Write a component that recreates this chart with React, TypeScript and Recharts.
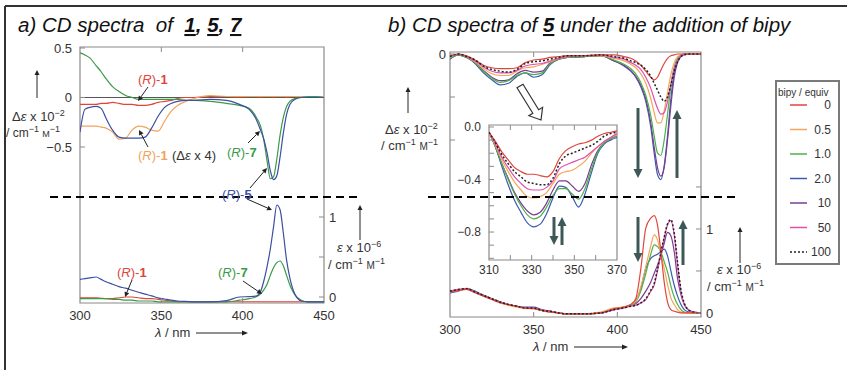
import React from 'react'
import { LineChart, Line, XAxis, YAxis, ReferenceArea, ReferenceLine, Legend } from 'recharts'

const FONT = '"Liberation Sans", Arial, Helvetica, sans-serif'
const TXT = '#333'
const AXIS = '#8a8a8a'

// ---- a) CD / absorption of (R)-1, (R)-5, (R)-7 ----
const lamA = [300, 303, 306, 310, 313, 316, 320, 324, 328, 332, 336, 340, 344, 348, 352, 356, 360, 365, 370, 380, 390, 398, 404, 408, 411, 413, 415, 417, 419, 421, 423, 425, 427, 429, 432, 436, 440, 445, 450]
const cdR7 = [0.45, 0.43, 0.4, 0.32, 0.26, 0.19, 0.11, 0.06, 0.02, 0, -0.02, -0.02, -0.02, -0.02, -0.02, -0.02, -0.02, -0.03, -0.03, -0.04, -0.06, -0.08, -0.11, -0.19, -0.29, -0.43, -0.64, -0.82, -0.8, -0.62, -0.38, -0.2, -0.09, -0.04, -0.01, 0, 0.01, 0.01, 0]
const cdR5 = [-0.35, -0.12, -0.1, -0.09, -0.11, -0.21, -0.33, -0.4, -0.41, -0.41, -0.41, -0.4, -0.31, -0.19, -0.1, -0.06, -0.04, -0.03, -0.03, -0.02, -0.03, -0.07, -0.12, -0.21, -0.33, -0.42, -0.56, -0.74, -0.83, -0.79, -0.6, -0.36, -0.17, -0.07, -0.02, 0, 0, 0, 0]
const cdR1 = [-0.07, -0.07, -0.07, -0.07, -0.06, -0.06, -0.05, -0.06, -0.07, -0.07, -0.08, -0.08, -0.07, -0.05, -0.04, -0.03, -0.01, 0, 0, 0.01, 0.01, 0.005, 0.01, 0.01, 0.005, 0.01, 0.01, 0.01, 0.005, 0.01, 0.01, 0.01, 0.005, 0.01, 0.01, 0.01, 0.01, 0.01, 0.01]
const cdR1x4 = [-0.29, -0.29, -0.29, -0.29, -0.3, -0.31, -0.35, -0.42, -0.41, -0.33, -0.29, -0.3, -0.33, -0.34, -0.24, -0.14, -0.08, -0.04, -0.01, 0.02, 0.01, 0.01, 0.01, 0.01, 0.01, 0.01, 0.01, 0.01, 0.01, 0.01, 0.01, 0.01, 0.01, 0.01, 0.01, 0.01, 0.01, 0.01, 0.01]
const absR5 = [0.22, 0.23, 0.24, 0.25, 0.22, 0.19, 0.16, 0.13, 0.11, 0.085, 0.06, 0.035, 0.015, -0.01, -0.025, -0.04, -0.05, -0.055, -0.06, -0.06, -0.045, 0, 0.005, 0.01, 0.07, 0.2, 0.38, 0.6, 0.88, 1.15, 1.09, 0.8, 0.46, 0.24, 0.04, -0.05, -0.06, -0.06, -0.06]
const absR7 = [-0.02, -0.02, -0.02, -0.02, -0.02, -0.02, -0.03, -0.03, -0.04, -0.04, -0.05, -0.05, -0.05, -0.06, -0.06, -0.06, -0.06, -0.06, -0.06, -0.06, -0.06, -0.04, -0.02, 0, 0.04, 0.09, 0.16, 0.27, 0.37, 0.43, 0.45, 0.39, 0.27, 0.15, 0.03, -0.04, -0.06, -0.06, -0.06]
const absR1 = [-0.01, -0.01, -0.01, -0.01, -0.015, -0.02, -0.02, -0.01, 0, 0, -0.01, -0.02, -0.02, -0.03, -0.04, -0.05, -0.06, -0.06, -0.06, -0.06, -0.06, -0.06, -0.06, -0.06, -0.06, -0.06, -0.06, -0.06, -0.06, -0.06, -0.06, -0.06, -0.06, -0.06, -0.06, -0.06, -0.06, -0.06, -0.06]

// ---- b) titration of 5 with bipy ----
const equivLabels = ['0', '0.5', '1.0', '2.0', '10', '50', '100']
const equivColors = ['#e0463c', '#f4a65c', '#4db04a', '#3c5bb0', '#7a3d8e', '#e050b0', '#222222']
const drawOrder = [3, 4, 2, 1, 5, 0, 6]

const lamB = [300, 305, 310, 315, 320, 325, 330, 335, 340, 345, 350, 355, 360, 365, 370, 380, 390, 398, 404, 408, 411, 414, 417, 420, 422, 424, 426, 428, 430, 432, 434, 436, 438, 440, 443, 446, 450]
const cdEq0 = [-0.02, 0, -0.02, -0.07, -0.13, -0.16, -0.17, -0.17, -0.16, -0.1, -0.07, -0.06, -0.04, -0.03, -0.02, -0.02, -0.01, -0.01, -0.03, -0.05, -0.08, -0.13, -0.2, -0.27, -0.3, -0.27, -0.19, -0.11, -0.05, -0.02, -0.01, 0, 0, 0, 0, 0, 0]
const cdEq05 = [-0.04, 0, -0.03, -0.09, -0.17, -0.23, -0.25, -0.25, -0.2, -0.16, -0.15, -0.12, -0.09, -0.05, -0.03, -0.02, -0.02, -0.05, -0.08, -0.12, -0.16, -0.23, -0.34, -0.52, -0.68, -0.8, -0.8, -0.66, -0.45, -0.24, -0.1, -0.03, -0.01, 0, 0, 0, 0]
const cdEq1 = [-0.05, -0.01, -0.04, -0.1, -0.2, -0.28, -0.33, -0.31, -0.25, -0.22, -0.24, -0.22, -0.11, -0.06, -0.04, -0.03, -0.02, -0.07, -0.12, -0.17, -0.23, -0.33, -0.48, -0.72, -0.95, -1.15, -1.18, -1.0, -0.7, -0.38, -0.15, -0.05, -0.01, 0, 0, 0, 0]
const cdEq2 = [-0.06, -0.01, -0.04, -0.11, -0.22, -0.3, -0.36, -0.34, -0.26, -0.22, -0.27, -0.24, -0.12, -0.06, -0.04, -0.03, -0.02, -0.08, -0.14, -0.2, -0.27, -0.38, -0.55, -0.85, -1.15, -1.4, -1.46, -1.3, -0.95, -0.52, -0.22, -0.08, -0.02, 0, 0, 0, 0]
const cdEq10 = [-0.05, -0.01, -0.04, -0.1, -0.19, -0.27, -0.31, -0.3, -0.23, -0.19, -0.21, -0.2, -0.1, -0.06, -0.04, -0.03, -0.02, -0.08, -0.13, -0.19, -0.26, -0.36, -0.52, -0.8, -1.08, -1.32, -1.42, -1.32, -1.0, -0.6, -0.27, -0.1, -0.03, -0.01, 0, 0, 0]
const cdEq50 = [-0.03, 0, -0.03, -0.08, -0.15, -0.2, -0.22, -0.22, -0.19, -0.14, -0.12, -0.11, -0.08, -0.05, -0.03, -0.02, -0.01, -0.04, -0.06, -0.1, -0.13, -0.18, -0.27, -0.4, -0.52, -0.63, -0.7, -0.68, -0.55, -0.35, -0.17, -0.07, -0.02, 0, 0, 0, 0]
const cdEq100 = [-0.03, 0, -0.03, -0.07, -0.14, -0.18, -0.2, -0.21, -0.18, -0.11, -0.09, -0.08, -0.06, -0.04, -0.02, -0.02, -0.01, -0.03, -0.05, -0.08, -0.1, -0.13, -0.18, -0.26, -0.34, -0.42, -0.5, -0.55, -0.5, -0.36, -0.2, -0.09, -0.03, -0.01, 0, 0, 0]

const absEq0 = [0.25, 0.27, 0.28, 0.24, 0.2, 0.16, 0.12, 0.1, 0.08, 0.06, 0.05, 0.03, 0.01, 0, -0.01, -0.01, 0, 0.05, 0.07, 0.1, 0.17, 0.52, 1.01, 1.13, 1.16, 1.05, 0.73, 0.37, 0.13, 0.04, 0.02, 0.01, 0, 0, 0, 0, 0]
const absEq05 = [0.25, 0.27, 0.28, 0.24, 0.2, 0.16, 0.12, 0.09, 0.07, 0.05, 0.05, 0.03, 0.01, 0, -0.01, -0.01, 0.01, 0.06, 0.07, 0.1, 0.14, 0.31, 0.55, 0.8, 0.93, 0.87, 0.7, 0.53, 0.34, 0.18, 0.1, 0.04, 0.01, 0, 0, 0, 0]
const absEq1 = [0.25, 0.27, 0.29, 0.25, 0.21, 0.17, 0.13, 0.1, 0.08, 0.06, 0.06, 0.03, 0.02, 0, -0.01, -0.01, 0, 0.05, 0.07, 0.09, 0.13, 0.26, 0.47, 0.7, 0.81, 0.79, 0.73, 0.61, 0.49, 0.32, 0.19, 0.1, 0.04, 0.01, 0, 0, 0]
const absEq2 = [0.24, 0.26, 0.29, 0.26, 0.21, 0.17, 0.13, 0.1, 0.08, 0.07, 0.07, 0.04, 0.02, 0, -0.01, -0.01, 0, 0.04, 0.07, 0.09, 0.15, 0.29, 0.53, 0.65, 0.68, 0.7, 0.73, 0.76, 0.68, 0.5, 0.33, 0.2, 0.1, 0.04, 0.01, 0, 0]
const absEq10 = [0.25, 0.27, 0.29, 0.25, 0.21, 0.17, 0.13, 0.1, 0.08, 0.06, 0.06, 0.03, 0.02, 0, -0.01, -0.01, 0, 0.04, 0.07, 0.09, 0.11, 0.17, 0.26, 0.37, 0.47, 0.57, 0.68, 0.83, 0.96, 0.92, 0.73, 0.41, 0.22, 0.1, 0.03, 0.01, 0]
const absEq50 = [0.26, 0.28, 0.29, 0.25, 0.21, 0.17, 0.13, 0.1, 0.08, 0.06, 0.06, 0.03, 0.02, 0, -0.01, -0.01, 0, 0.04, 0.06, 0.08, 0.09, 0.12, 0.16, 0.26, 0.33, 0.5, 0.7, 0.89, 1.05, 1.1, 0.93, 0.57, 0.25, 0.1, 0.03, 0.01, 0]
const absEq100 = [0.26, 0.28, 0.29, 0.25, 0.21, 0.17, 0.13, 0.1, 0.08, 0.06, 0.06, 0.03, 0.02, 0, -0.01, -0.01, 0, 0.04, 0.06, 0.08, 0.09, 0.12, 0.17, 0.27, 0.35, 0.52, 0.72, 0.9, 1.06, 1.11, 0.95, 0.6, 0.28, 0.12, 0.03, 0.01, 0]

// inset, 310-370 nm
const lamC = [310, 313, 316, 319, 322, 325, 328, 331, 334, 337, 340, 343, 346, 349, 352, 355, 358, 361, 364, 367, 370]
const insEq0 = [-0.04, -0.11, -0.19, -0.25, -0.31, -0.34, -0.36, -0.36, -0.37, -0.38, -0.34, -0.24, -0.18, -0.15, -0.13, -0.12, -0.1, -0.07, -0.05, -0.04, -0.03]
const insEq05 = [-0.04, -0.14, -0.25, -0.34, -0.42, -0.48, -0.53, -0.54, -0.53, -0.5, -0.43, -0.36, -0.34, -0.33, -0.3, -0.26, -0.2, -0.15, -0.11, -0.08, -0.06]
const insEq1 = [-0.04, -0.15, -0.28, -0.4, -0.51, -0.6, -0.67, -0.7, -0.68, -0.61, -0.52, -0.47, -0.47, -0.51, -0.55, -0.47, -0.32, -0.19, -0.12, -0.09, -0.07]
const insEq2 = [-0.04, -0.15, -0.3, -0.44, -0.56, -0.65, -0.73, -0.76, -0.74, -0.66, -0.54, -0.45, -0.46, -0.53, -0.61, -0.51, -0.35, -0.2, -0.13, -0.1, -0.08]
const insEq10 = [-0.04, -0.15, -0.28, -0.39, -0.5, -0.58, -0.64, -0.67, -0.65, -0.58, -0.48, -0.41, -0.41, -0.45, -0.49, -0.43, -0.29, -0.18, -0.12, -0.09, -0.07]
const insEq50 = [-0.04, -0.13, -0.23, -0.31, -0.38, -0.43, -0.47, -0.48, -0.48, -0.46, -0.41, -0.32, -0.29, -0.27, -0.25, -0.23, -0.19, -0.15, -0.11, -0.08, -0.05]
const insEq100 = [-0.04, -0.12, -0.21, -0.28, -0.34, -0.38, -0.42, -0.43, -0.44, -0.44, -0.39, -0.28, -0.22, -0.2, -0.18, -0.16, -0.14, -0.11, -0.07, -0.05, -0.04]

const cdEq = [cdEq0, cdEq05, cdEq1, cdEq2, cdEq10, cdEq50, cdEq100]
const absEq = [absEq0, absEq05, absEq1, absEq2, absEq10, absEq50, absEq100]
const insEq = [insEq0, insEq05, insEq1, insEq2, insEq10, insEq50, insEq100]

const rowsA = lamA.map((x, i) => ({
  x,
  cdR1: cdR1[i], cdR1x4: cdR1x4[i], cdR5: cdR5[i], cdR7: cdR7[i],
  absR1: absR1[i], absR5: absR5[i], absR7: absR7[i],
}))
const rowsB = lamB.map((x, i) => {
  const r: any = { x }
  equivLabels.forEach((_, k) => {
    r['cd' + k] = cdEq[k][i]
    r['ab' + k] = absEq[k][i]
  })
  return r
})
const rowsC = lamC.map((x, i) => {
  const r: any = { x }
  equivLabels.forEach((_, k) => { r['v' + k] = insEq[k][i] })
  return r
})

const RED = '#e0443a'
const ORANGE = '#f2a35a'
const GREEN = '#3b9a48'
const BLUE = '#3c4fa3'
const SLATE = '#3e5858'

// tick renderers: inward tick marks + optional label
const makeXTick = (labels: number[], marks: number[], top: number, bottom: number, fs: number) => (p: any) => {
  const v = p.payload.value
  return (
    <g>
      {marks.includes(v) && <line x1={p.x} x2={p.x} y1={bottom} y2={bottom - 5} stroke={AXIS} />}
      {marks.includes(v) && <line x1={p.x} x2={p.x} y1={top} y2={top + 5} stroke={AXIS} />}
      {labels.includes(v) && (
        <text x={p.x} y={p.y} dy="0.71em" textAnchor="middle" fontSize={fs} fill={TXT} fontFamily={FONT}>{v}</text>
      )}
    </g>
  )
}

const makeYTick = (side: 'left' | 'right', axisX: number, fmt: (v: number) => string, fs: number) => (p: any) => {
  const v = p.payload.value
  const s = fmt(v)
  const d = side === 'left' ? 5 : -5
  return (
    <g>
      <line x1={axisX} x2={axisX + d} y1={p.y} y2={p.y} stroke={AXIS} />
      {s !== '' && (
        <text x={p.x} y={p.y} dy="0.355em" textAnchor={side === 'left' ? 'end' : 'start'} fontSize={fs} fill={TXT} fontFamily={FONT}>{s}</text>
      )}
    </g>
  )
}

const minus = (v: number) => (v < 0 ? '\u2212' + String(-v) : String(v))

function LeftChart() {
  // plot area 80..324 x 47..303
  return (
    <LineChart width={420} height={370} data={rowsA} margin={{ top: 47, right: 66, bottom: 47, left: 50 }}>
      <XAxis dataKey="x" type="number" domain={[300, 450]} allowDataOverflow ticks={[300, 350, 400, 450]} interval={0}
        height={20} tickSize={0} tickMargin={8} axisLine={false} tickLine={false}
        tick={makeXTick([300, 350, 400, 450], [350, 400], 47, 303, 13)} />
      <YAxis yAxisId="cd" domain={[-2.076, 0.51]} allowDataOverflow ticks={[0.5, 0, -0.5]} interval={0} width={30}
        tickSize={0} tickMargin={8} axisLine={false} tickLine={false}
        tick={makeYTick('left', 80, minus, 13)} />
      <YAxis yAxisId="abs" orientation="right" domain={[-0.075, 3.125]} allowDataOverflow ticks={[0, 0.5, 1]} interval={0} width={30}
        tickSize={0} tickMargin={5} axisLine={false} tickLine={false}
        tick={makeYTick('right', 324, (v) => (v === 0.5 ? '' : String(v)), 13)} />
      <ReferenceArea yAxisId="cd" x1={300} x2={450} y1={-2.076} y2={0.51} fill="none" stroke={AXIS} strokeWidth={1.2} ifOverflow="visible" />
      <ReferenceLine yAxisId="cd" y={0} stroke="#555" strokeWidth={1} />
      <Line yAxisId="cd" dataKey="cdR1" type="monotone" stroke={RED} strokeWidth={1.2} dot={false} isAnimationActive={false} />
      <Line yAxisId="cd" dataKey="cdR1x4" type="monotone" stroke={ORANGE} strokeWidth={1.2} dot={false} isAnimationActive={false} />
      <Line yAxisId="cd" dataKey="cdR7" type="monotone" stroke={GREEN} strokeWidth={1.2} dot={false} isAnimationActive={false} />
      <Line yAxisId="cd" dataKey="cdR5" type="monotone" stroke={BLUE} strokeWidth={1.2} dot={false} isAnimationActive={false} />
      <Line yAxisId="abs" dataKey="absR1" type="monotone" stroke={RED} strokeWidth={1.1} dot={false} isAnimationActive={false} />
      <Line yAxisId="abs" dataKey="absR7" type="monotone" stroke={GREEN} strokeWidth={1.2} dot={false} isAnimationActive={false} />
      <Line yAxisId="abs" dataKey="absR5" type="monotone" stroke={BLUE} strokeWidth={1.2} dot={false} isAnimationActive={false} />
    </LineChart>
  )
}

function BipyLegend() {
  return (
    <div style={{ width: 65, height: 185, boxSizing: 'border-box', border: '2px solid #7a7a7a', background: '#fff' }}>
      <svg width={61} height={181} style={{ display: 'block' }}>
        <text x={1} y={14} fontSize={10} fill={TXT} fontFamily={FONT}>bipy / equiv</text>
        {equivLabels.map((lab, k) => {
          const y = 23 + k * 24.5
          return (
            <g key={lab}>
              <line x1={13} x2={30} y1={y} y2={y} stroke={equivColors[k]} strokeWidth={1.5}
                strokeDasharray={k === 6 ? '2 2' : undefined} />
              <text x={54} y={y} dy="0.355em" textAnchor="end" fontSize={12} fill={TXT} fontFamily={FONT}>{lab}</text>
            </g>
          )
        })}
      </svg>
    </div>
  )
}

function RightChart() {
  // chart origin at page x=400; plot area local 50..301 x 52..317
  return (
    <LineChart width={447} height={370} data={rowsB} margin={{ top: 52, right: 116, bottom: 33, left: 20 }}>
      <XAxis dataKey="x" type="number" domain={[300, 450]} allowDataOverflow ticks={[300, 350, 400, 450]} interval={0}
        height={20} tickSize={0} tickMargin={8} axisLine={false} tickLine={false}
        tick={makeXTick([300, 350, 400, 450], [350, 400], 52, 317, 13)} />
      <YAxis yAxisId="cd" domain={[-3.058, 0.0233]} allowDataOverflow ticks={[0, -0.5, -1]} interval={0} width={30}
        tickSize={0} tickMargin={4} axisLine={false} tickLine={false}
        tick={makeYTick('left', 50, (v) => (v === 0 ? '0' : ''), 13)} />
      <YAxis yAxisId="abs" orientation="right" domain={[-0.048, 3.107]} allowDataOverflow ticks={[0, 0.5, 1, 1.5]} interval={0} width={30}
        tickSize={0} tickMargin={5} axisLine={false} tickLine={false}
        tick={makeYTick('right', 301, (v) => (v === 0 || v === 1 ? String(v) : ''), 13)} />
      <ReferenceArea yAxisId="cd" x1={300} x2={450} y1={-3.058} y2={0.0233} fill="none" stroke={AXIS} strokeWidth={1.2} ifOverflow="visible" />
      {drawOrder.map((k) => (
        <Line key={'cd' + k} yAxisId="cd" dataKey={'cd' + k} name={equivLabels[k]} type="monotone" stroke={equivColors[k]}
          strokeWidth={k === 6 ? 1.5 : 1.2} strokeDasharray={k === 6 ? '2 2' : undefined} dot={false} isAnimationActive={false} />
      ))}
      {drawOrder.map((k) => (
        <Line key={'ab' + k} yAxisId="abs" dataKey={'ab' + k} type="monotone" stroke={equivColors[k]} legendType="none"
          strokeWidth={k === 6 ? 1.5 : 1.2} strokeDasharray={k === 6 ? '2 2' : undefined} dot={false} isAnimationActive={false} />
      ))}
      <Legend layout="vertical" align="center" verticalAlign="middle"
        wrapperStyle={{ position: 'absolute', left: 375, top: 80, width: 65, height: 185 }}
        content={() => <BipyLegend />} />
    </LineChart>
  )
}

function InsetChart() {
  // chart origin at page (440,115); plot local 49..177 x 10..145
  const yt = [0, -0.1, -0.2, -0.3, -0.4, -0.5, -0.6, -0.7, -0.8, -0.9, -1.0]
  return (
    <LineChart width={190} height={170} data={rowsC} margin={{ top: 10, right: 13, bottom: 9, left: 19 }}>
      <XAxis dataKey="x" type="number" domain={[310, 370]} allowDataOverflow ticks={[310, 320, 330, 340, 350, 360, 370]} interval={0}
        height={16} tickSize={0} tickMargin={5} axisLine={false} tickLine={false}
        tick={makeXTick([310, 330, 350, 370], [320, 330, 340, 350, 360], 10, 145, 12)} />
      <YAxis domain={[-1.013, 0.015]} allowDataOverflow ticks={yt} interval={0} width={30}
        tickSize={0} tickMargin={8} axisLine={false} tickLine={false}
        tick={makeYTick('left', 49, (v) => (v === 0 ? '0.0' : v === -0.4 ? '\u22120.4' : v === -0.8 ? '\u22120.8' : ''), 12)} />
      <ReferenceArea x1={310} x2={370} y1={-1.013} y2={0.015} fill="#fff" fillOpacity={1} stroke={AXIS} strokeWidth={1.2} ifOverflow="visible" />
      {drawOrder.map((k) => (
        <Line key={'v' + k} dataKey={'v' + k} type="monotone" stroke={equivColors[k]}
          strokeWidth={k === 6 ? 1.5 : 1.2} strokeDasharray={k === 6 ? '2 2' : undefined} dot={false} isAnimationActive={false} />
      ))}
    </LineChart>
  )
}

function Arrow({ x1, y1, x2, y2, color = '#222', w = 1, hl = 6, hw = 3 }: any) {
  const a = Math.atan2(y2 - y1, x2 - x1)
  const c = Math.cos(a)
  const s = Math.sin(a)
  const bx = x2 - hl * c
  const by = y2 - hl * s
  const pts = `${x2},${y2} ${bx - hw * s},${by + hw * c} ${bx + hw * s},${by - hw * c}`
  return (
    <g>
      <line x1={x1} y1={y1} x2={bx} y2={by} stroke={color} strokeWidth={w} />
      <polygon points={pts} fill={color} />
    </g>
  )
}

function HollowArrow({ x1, y1, x2, y2 }: any) {
  const L = Math.hypot(x2 - x1, y2 - y1)
  const ux = (x2 - x1) / L
  const uy = (y2 - y1) / L
  const nx = -uy
  const ny = ux
  const hx = x2 - ux * 10
  const hy = y2 - uy * 10
  const p = (x: number, y: number) => `${x.toFixed(1)},${y.toFixed(1)}`
  const pts = [
    p(x1 + nx * 3.5, y1 + ny * 3.5), p(hx + nx * 3.5, hy + ny * 3.5), p(hx + nx * 8, hy + ny * 8), p(x2, y2),
    p(hx - nx * 8, hy - ny * 8), p(hx - nx * 3.5, hy - ny * 3.5), p(x1 - nx * 3.5, y1 - ny * 3.5),
  ].join(' ')
  return <polygon points={pts} fill="#fff" stroke="#333" strokeWidth={1.2} />
}

function RLabel({ x, y, n, color }: any) {
  return (
    <text x={x} y={y} fontSize={13} fill={color} fontFamily={FONT}>
      (<tspan fontStyle="italic">R</tspan>)-<tspan fontWeight="bold">{n}</tspan>
    </text>
  )
}

function DeLabel({ x, y, exp, sym }: any) {
  return (
    <text x={x} y={y} fontSize={13} fill={TXT} fontFamily={FONT}>
      {sym}<tspan fontStyle="italic">ε</tspan>{'\u00a0x 10'}<tspan dy={-5} fontSize={9}>{exp}</tspan>
    </text>
  )
}

function UnitLine({ x, y, fs = 13 }: any) {
  return (
    <text x={x} y={y} fontSize={fs} fill={TXT} fontFamily={FONT}>
      {'/ cm'}<tspan dy={-5} fontSize={9}>−1</tspan><tspan dy={5}>{'\u00a0'}</tspan><tspan fontSize={fs - 3}>M</tspan><tspan dy={-5} fontSize={9}>−1</tspan>
    </text>
  )
}

function Overlay() {
  const big = { color: SLATE, w: 3, hl: 9, hw: 4.5 }
  return (
    <svg width={847} height={370} style={{ position: 'absolute', left: 0, top: 0, pointerEvents: 'none' }}>
      {/* frame */}
      <line x1={5} y1={6} x2={847} y2={6} stroke="#333" strokeWidth={2} />
      <line x1={5} y1={6} x2={5} y2={370} stroke="#333" strokeWidth={2} />

      {/* titles */}
      <text x={18} y={32} fontSize={20.5} fontStyle="italic" fill="#111" fontFamily={FONT}>
        {'a) CD spectra\u00a0\u00a0of\u00a0\u00a0'}
        <tspan fontWeight="bold" style={{ textDecoration: 'underline' }}>1</tspan>
        <tspan fontWeight="bold">,</tspan>{'\u00a0'}
        <tspan fontWeight="bold" style={{ textDecoration: 'underline' }}>5</tspan>
        <tspan fontWeight="bold">,</tspan>{'\u00a0'}
        <tspan fontWeight="bold" style={{ textDecoration: 'underline' }}>7</tspan>
      </text>
      <text x={388} y={32} fontSize={20.5} fontStyle="italic" fill="#111" fontFamily={FONT}>
        {'b) CD spectra of '}
        <tspan fontWeight="bold" style={{ textDecoration: 'underline' }}>5</tspan>
        {' under the addition of bipy'}
      </text>

      {/* dashed dividers */}
      <line x1={50} y1={197} x2={362} y2={197} stroke="#000" strokeWidth={2} strokeDasharray="8 5" />
      <line x1={428} y1={197} x2={740} y2={197} stroke="#000" strokeWidth={2} strokeDasharray="8 5" />

      {/* a) axis labels */}
      <Arrow x1={37} y1={98} x2={37} y2={70} w={1} hl={5} hw={2.5} />
      <DeLabel x={12} y={121} exp="−2" sym="Δ" />
      <UnitLine x={6} y={137} fs={12} />
      <Arrow x1={360} y1={240} x2={360} y2={205} w={1} hl={5} hw={2.5} />
      <DeLabel x={337} y={252} exp="−6" sym="" />
      <UnitLine x={328} y={269} />
      <text x={155} y={337} fontSize={13} fill={TXT} fontFamily={FONT}><tspan fontStyle="italic">λ</tspan> / nm</text>
      <Arrow x1={196} y1={333} x2={248} y2={333} w={1} hl={6} hw={2.5} />

      {/* a) annotations */}
      <RLabel x={138} y={84} n="1" color={RED} />
      <Arrow x1={148} y1={87} x2={138} y2={101} hl={5} hw={2.5} />
      <RLabel x={138} y={160} n="1" color={ORANGE} />
      <text x={172} y={160} fontSize={13} fill={TXT} fontFamily={FONT}>(Δ<tspan fontStyle="italic">ε</tspan> x 4)</text>
      <Arrow x1={148} y1={147} x2={139} y2={130} hl={5} hw={2.5} />
      <RLabel x={227} y={157} n="7" color={GREEN} />
      <Arrow x1={248} y1={143} x2={260} y2={131} hl={5} hw={2.5} />
      <RLabel x={222} y={199} n="5" color={BLUE} />
      <Arrow x1={250} y1={188} x2={267} y2={168} hl={5} hw={2.5} />
      <Arrow x1={247} y1={199} x2={272} y2={210} hl={5} hw={2.5} />
      <RLabel x={117} y={277} n="1" color={RED} />
      <Arrow x1={132} y1={280} x2={125} y2={297} hl={5} hw={2.5} />
      <RLabel x={218} y={277} n="7" color={GREEN} />
      <Arrow x1={243} y1={281} x2={262} y2={294} hl={5} hw={2.5} />

      {/* b) axis labels */}
      <Arrow x1={408} y1={113} x2={408} y2={87} w={1} hl={5} hw={2.5} />
      <DeLabel x={385} y={134} exp="−2" sym="Δ" />
      <UnitLine x={381} y={150} />
      <Arrow x1={740} y1={263} x2={740} y2={227} w={1} hl={5} hw={2.5} />
      <DeLabel x={717} y={274} exp="−6" sym="" />
      <UnitLine x={707} y={291} />
      <text x={533} y={351} fontSize={13} fill={TXT} fontFamily={FONT}><tspan fontStyle="italic">λ</tspan> / nm</text>
      <Arrow x1={574} y1={347} x2={628} y2={347} w={1} hl={6} hw={2.5} />

      {/* b) trend arrows */}
      <Arrow x1={638} y1={108} x2={638} y2={178} {...big} />
      <Arrow x1={677} y1={178} x2={677} y2={110} {...big} />
      <Arrow x1={638} y1={217} x2={638} y2={262} {...big} />
      <Arrow x1={683} y1={265} x2={683} y2={220} {...big} />
      <Arrow x1={554} y1={217} x2={554} y2={245} {...big} />
      <Arrow x1={562} y1={245} x2={562} y2={217} {...big} />
      <HollowArrow x1={520} y1={86} x2={541} y2={120} />
    </svg>
  )
}

export default function App() {
  return (
    <div style={{ position: 'absolute', left: 0, top: 0, width: 847, height: 370, background: '#fff', overflow: 'hidden', fontFamily: FONT }}>
      <div style={{ position: 'absolute', left: 0, top: 0 }}><LeftChart /></div>
      <div style={{ position: 'absolute', left: 400, top: 0 }}><RightChart /></div>
      <div style={{ position: 'absolute', left: 440, top: 115 }}><InsetChart /></div>
      <Overlay />
    </div>
  )
}
